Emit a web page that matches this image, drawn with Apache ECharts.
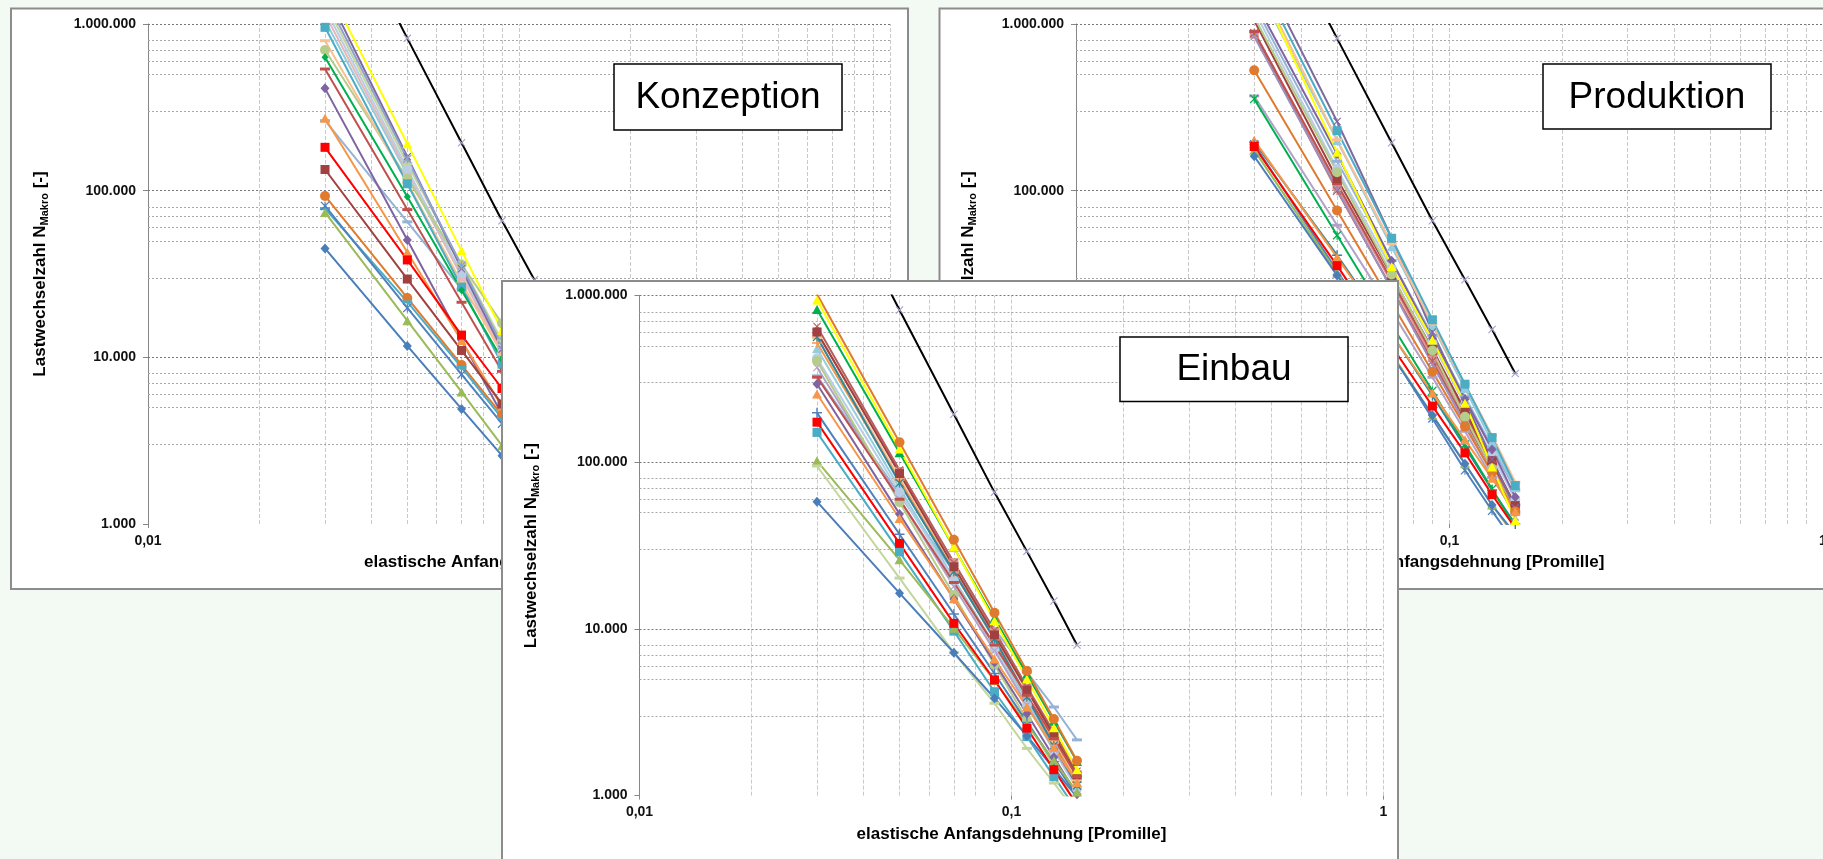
<!DOCTYPE html>
<html>
<head>
<meta charset="utf-8">
<title>Lastwechselzahl über elastische Anfangsdehnung</title>
<script src="https://cdn.jsdelivr.net/npm/echarts@6/dist/echarts.min.js"></script>
<style>
  html, body { margin: 0; padding: 0; background: #f3f9f3; }
  #chart { width: 1823px; height: 859px; }
</style>
</head>
<body>
<div id="chart"></div>
<script>
// ---- Achsen ----------------------------------------------------------
const strain = [0.03, 0.05, 0.07, 0.09, 0.11, 0.13, 0.15];          // elastische Anfangsdehnung [‰]
const xTickValues = [0.01, 0.1, 1];
const xTickLabels = ['0,01', '0,1', '1'];
const yTickValues = [1000, 10000, 100000, 1000000];
const yTickLabels = ['1.000', '10.000', '100.000', '1.000.000'];
const xGridValues = [0.02, 0.03, 0.04, 0.05, 0.06, 0.07, 0.08, 0.09, 0.1,
                     0.2, 0.3, 0.4, 0.5, 0.6, 0.7, 0.8, 0.9, 1];
const yMinorGridValues = [3000, 5000, 6000, 7000, 8000,
                          30000, 50000, 60000, 70000, 80000,
                          300000, 500000, 600000, 700000, 800000];
const yMajorGridValues = [10000, 100000, 1000000];

// ---- Referenzkurve (in allen drei Diagrammen) -------------------------
const referenzKurve = [7500000, 820000, 194000, 66000, 29200, 14700, 8000];

// ---- Konzeption ------------------------------------------------------
const konzBlauRaute        = [45000, 11700, 4900, 2570, 1520, 985, 680];
const konzGruenDreieck     = [74000, 16600, 6200, 2950, 1640, 1000, 660];
const konzBlauStern        = [81000, 19800, 7900, 4000, 2320, 1470, 1000];
const konzTuerkisStrich    = [78000, 21500, 8700, 4300, 2450, 1520, 1010];
const konzOrangeKreis      = [93000, 22700, 9000, 4500, 2600, 1640, 1110];
const konzBraunQuadrat     = [134000, 29500, 11000, 5250, 2900, 1770, 1160];
const konzRotQuadrat       = [182000, 38400, 13600, 6500, 3530, 2140, 1400];
const konzOrangeDreieck    = [272000, 42700, 12600, 5060, 2450, 1340, 800];
const konzHellblauStrich   = [263000, 65000, 25700, 12900, 7400, 4700, 3200];
const konzLilaRaute        = [411000, 50600, 12700, 4540, 1990, 1000, 560];
const konzRotStrich        = [537000, 77000, 21400, 8240, 3850, 2030, 1170];
const konzGruenRaute       = [631000, 92000, 25300, 9750, 4540, 2400, 1390];
const konzHellgruenKreis   = [698000, 118000, 36000, 16000, 8000, 4500, 2700];
const konzApricotStrich    = [794000, 112000, 28000, 10500, 4700, 2500, 1400];
const konzTuerkisQuadrat   = [955000, 110000, 26400, 9100, 3900, 1930, 1050];
const konzHelltuerkis      = [1050000, 125000, 31000, 11000, 4800, 2400, 1300];
const konzRosaQuadrat      = [1150000, 130000, 30500, 10800, 4600, 2300, 1250];
const konzHellblauKreis    = [1250000, 135000, 32000, 11500, 4700, 2300, 1200];
const konzHellgruenStrich  = [1350000, 145000, 36000, 12500, 5300, 2600, 1400];
const konzFliederStern     = [1450000, 155000, 35500, 11800, 4900, 2370, 1260];
const konzLilaKreuz        = [1600000, 160000, 34000, 11200, 4500, 2100, 1100];
const konzGelbDreieck      = [1780000, 191000, 43700, 14500, 6000, 2900, 1550];

// ---- Produktion ------------------------------------------------------
const prodBlauRaute        = [161000, 31000, 10300, 4500, 2300, 1300, 870];
const prodGruenDreieck     = [175000, 32000, 10500, 4500, 2300, 1300, 840];
const prodRotQuadrat       = [184000, 35500, 11700, 5100, 2670, 1500, 945];
const prodBlauStern        = [190000, 33000, 10500, 4300, 2100, 1200, 760];
const prodOrangeDreieck    = [201000, 39800, 13700, 6100, 3200, 1880, 1190];
const prodTuerkisPlus      = [196000, 41000, 13800, 5900, 2900, 1600, 1000];
const prodGruenStern       = [355000, 54000, 15700, 6300, 3000, 1620, 960];
const prodFliederStrich    = [370000, 62000, 19000, 7600, 3600, 1900, 1150];
const prodOrangeKreis      = [527000, 76000, 21200, 8200, 3840, 2040, 1190];
const prodFliederKreuz     = [840000, 102000, 25700, 9100, 4000, 2000, 1100];
const prodRosaQuadrat      = [870000, 106000, 28000, 10000, 4400, 2200, 1250];
const prodBraunStern       = [880000, 100000, 26000, 9500, 4200, 2150, 1200];
const prodRotStrich        = [900000, 110000, 29000, 10500, 4600, 2300, 1300];
const prodBraunQuadrat     = [1050000, 118000, 31000, 11200, 4800, 2400, 1290];
const prodHellgruenKreis   = [1100000, 129000, 31400, 11000, 4400, 2150, 1180];
const prodHellblauKreis    = [1200000, 135000, 34000, 12200, 5200, 2600, 1400];
const prodHellblauStrich   = [1300000, 150000, 38000, 13500, 5800, 2900, 1600];
const prodLilaRaute        = [1400000, 166000, 38000, 13000, 5600, 2800, 1450];
const prodHelltuerkis      = [1800000, 200000, 46000, 15500, 6500, 3100, 1650];
const prodGelbDreieck      = [2000000, 170000, 35000, 12700, 5300, 2200, 1050];
const prodApricotStrich    = [2000000, 202000, 48000, 15800, 6900, 3400, 1780];
const prodTuerkisQuadrat   = [2200000, 229000, 51800, 16800, 6900, 3300, 1700];
const prodLilaKreuz        = [2500000, 260000, 52000, 14200, 5500, 2450, 1250];

// ---- Einbau ----------------------------------------------------------
const einbBlauRaute        = [58000, 16400, 7200, 3840, 2280, 1450, 980];
const einbHellgruenStrich  = [95000, 20200, 7200, 3580, 1920, 1190, 785];
const einbGruenDreieck     = [102000, 26000, 10100, 4900, 2670, 1620, 1050];
const einbTuerkisQuadrat   = [151000, 29000, 9700, 4200, 2260, 1300, 815];
const einbRotQuadrat       = [174000, 32600, 10800, 4940, 2540, 1430, 880];
const einbBlauPlus         = [198000, 37000, 12300, 5400, 2750, 1600, 990];
const einbOrangeDreieck    = [257000, 46000, 15200, 6600, 3400, 1950, 1200];
const einbLilaRaute        = [295000, 49000, 15100, 6300, 3100, 1700, 1020];
const einbRotStrich        = [324000, 60000, 19000, 8000, 4000, 2200, 1300];
const einbHellblauStrich   = [330000, 64000, 21900, 10000, 5500, 3400, 2160];
const einbFliederKreuz     = [370000, 60000, 18000, 7400, 3500, 1900, 1150];
const einbHellgruenKreis   = [405000, 57500, 16000, 6100, 2850, 1500, 880];
const einbHellblauKreis    = [420000, 66000, 19500, 7600, 3500, 1850, 1100];
const einbHelltuerkis      = [480000, 70000, 20000, 8000, 3700, 2000, 1200];
const einbOrangePlus       = [520000, 78000, 22000, 8600, 3900, 2050, 1200];
const einbApricotStrich    = [560000, 80000, 22500, 8800, 4000, 2100, 1230];
const einbTuerkisStern     = [565000, 75000, 22000, 8700, 3900, 2000, 1150];
const einbRosaQuadrat      = [600000, 88000, 25000, 9600, 4400, 2300, 1300];
const einbBraunQuadrat     = [605000, 85500, 23600, 9200, 4300, 2290, 1330];
const einbBraunKreuz       = [653000, 90000, 25000, 9800, 4500, 2400, 1400];
const einbGruenDreieck2    = [826000, 114000, 30800, 11600, 5350, 2790, 1600];
const einbGelbDreieck      = [940000, 120000, 30900, 11200, 5000, 2550, 1430];
const einbOrangeKreis      = [1020000, 132000, 34300, 12500, 5600, 2880, 1620];

// ---- Markerformen ----------------------------------------------------
const X_PATH = 'path://M1,0L5,4L9,0L10,1L6,5L10,9L9,10L5,6L1,10L0,9L4,5L0,1Z';
const STAR_PATH = 'path://M1,0L5,4L9,0L10,1L6,5L10,9L9,10L5,6L1,10L0,9L4,5L0,1Z M4.4,0H5.6V10H4.4Z';
const PLUS_PATH = 'path://M4.3,0H5.7V4.3H10V5.7H5.7V10H4.3V5.7H0V4.3H4.3Z';
const marker = {
  raute:   ['diamond', [9, 10]],
  quadrat: ['rect', [9, 9]],
  dreieck: ['triangle', [10, 9]],
  kreis:   ['circle', [10, 10]],
  kreuz:   [X_PATH, [8, 8]],
  stern:   [STAR_PATH, [9, 9]],
  plus:    [PLUS_PATH, [10, 10]],
  strich:  ['rect', [10, 3]],
  klein:   ['diamond', [7, 8]]
};

// Reihenfolge = Zeichenreihenfolge (später gezeichnete Reihen liegen oben)
const konzeptionReihen = [
  [konzHellblauStrich, '#95B3D7', 'strich'],
  [konzHelltuerkis, '#93CDDD', 'dreieck'],
  [konzRosaQuadrat, '#E6B9B8', 'quadrat'],
  [konzHellblauKreis, '#B9CDE5', 'kreis'],
  [konzHellgruenStrich, '#C3D69B', 'strich'],
  [konzHellgruenKreis, '#B6CC8A', 'kreis'],
  [konzApricotStrich, '#FAC090', 'strich'],
  [konzLilaKreuz, '#7F6A9E', 'kreuz'],
  [konzFliederStern, '#8EA0D0', 'stern'],
  [konzTuerkisQuadrat, '#4BACC6', 'quadrat'],
  [konzGruenRaute, '#00B050', 'klein'],
  [konzRotStrich, '#C0504D', 'strich'],
  [konzLilaRaute, '#8064A2', 'raute'],
  [konzOrangeDreieck, '#F79646', 'dreieck'],
  [konzRotQuadrat, '#FF0000', 'quadrat'],
  [konzBraunQuadrat, '#A0413F', 'quadrat'],
  [konzOrangeKreis, '#E07A2E', 'kreis'],
  [konzTuerkisStrich, '#4BACC6', 'strich'],
  [konzBlauStern, '#4F81BD', 'stern'],
  [konzGruenDreieck, '#9BBB59', 'dreieck'],
  [konzBlauRaute, '#4A7EBB', 'raute'],
  [konzGelbDreieck, '#FFFF00', 'dreieck']
];

const produktionReihen = [
  [prodHellblauStrich, '#95B3D7', 'strich'],
  [prodHelltuerkis, '#93CDDD', 'dreieck'],
  [prodHellblauKreis, '#B9CDE5', 'kreis'],
  [prodRosaQuadrat, '#D99694', 'quadrat'],
  [prodBraunStern, '#B65F5C', 'stern'],
  [prodRotStrich, '#C0504D', 'strich'],
  [prodBraunQuadrat, '#A0413F', 'quadrat'],
  [prodFliederStrich, '#B3A2C7', 'strich'],
  [prodFliederKreuz, '#9E8FC0', 'kreuz'],
  [prodHellgruenKreis, '#B6CC8A', 'kreis'],
  [prodLilaRaute, '#8064A2', 'raute'],
  [prodLilaKreuz, '#7F6A9E', 'kreuz'],
  [prodApricotStrich, '#FAC090', 'strich'],
  [prodTuerkisQuadrat, '#4BACC6', 'quadrat'],
  [prodTuerkisPlus, '#31859C', 'plus'],
  [prodOrangeKreis, '#E07A2E', 'kreis'],
  [prodGruenStern, '#00B050', 'stern'],
  [prodOrangeDreieck, '#F79646', 'dreieck'],
  [prodBlauStern, '#4F81BD', 'stern'],
  [prodGruenDreieck, '#9BBB59', 'dreieck'],
  [prodBlauRaute, '#4A7EBB', 'raute'],
  [prodGelbDreieck, '#FFFF00', 'dreieck'],
  [prodRotQuadrat, '#FF0000', 'quadrat']
];

const einbauReihen = [
  [einbHellblauStrich, '#95B3D7', 'strich'],
  [einbHelltuerkis, '#93CDDD', 'dreieck'],
  [einbHellblauKreis, '#B9CDE5', 'kreis'],
  [einbFliederKreuz, '#B3A2C7', 'kreuz'],
  [einbRosaQuadrat, '#D99694', 'quadrat'],
  [einbApricotStrich, '#FAC090', 'strich'],
  [einbOrangePlus, '#F79646', 'plus'],
  [einbTuerkisStern, '#31859C', 'stern'],
  [einbBraunKreuz, '#B65F5C', 'kreuz'],
  [einbBraunQuadrat, '#A0413F', 'quadrat'],
  [einbHellgruenKreis, '#B6CC8A', 'kreis'],
  [einbRotStrich, '#C0504D', 'strich'],
  [einbLilaRaute, '#8064A2', 'raute'],
  [einbOrangeDreieck, '#F79646', 'dreieck'],
  [einbBlauPlus, '#4F81BD', 'plus'],
  [einbTuerkisQuadrat, '#4BACC6', 'quadrat'],
  [einbGruenDreieck, '#9BBB59', 'dreieck'],
  [einbHellgruenStrich, '#C3D69B', 'strich'],
  [einbBlauRaute, '#4A7EBB', 'raute'],
  [einbRotQuadrat, '#FF0000', 'quadrat'],
  [einbGruenDreieck2, '#00B050', 'dreieck'],
  [einbGelbDreieck, '#FFFF00', 'dreieck'],
  [einbOrangeKreis, '#E07A2E', 'kreis']
];

// ---- Aufbau ----------------------------------------------------------
const FONT = '"Liberation Sans", Arial, Helvetica, sans-serif';

const panels = [
  { title: 'Konzeption', grid: { left: 148, top: 24, width: 742, height: 500 }, zlevel: 0, reihen: konzeptionReihen,
    frame: { x: 11, y: 8.5, width: 897, height: 580.5 }, box: { x: 614, y: 64, width: 228, height: 66 } },
  { title: 'Produktion', grid: { left: 1076, top: 24, width: 747, height: 500 }, zlevel: 0, reihen: produktionReihen,
    frame: { x: 939.5, y: 8.5, width: 900, height: 580.5 }, box: { x: 1543, y: 64, width: 228, height: 65 } },
  { title: 'Einbau', grid: { left: 639.5, top: 295.6, width: 744, height: 500 }, zlevel: 1, reihen: einbauReihen,
    frame: { x: 502, y: 281, width: 896, height: 600 }, box: { x: 1120, y: 337, width: 228, height: 64.5 } }
];

function tickLabel(values, labels) {
  return function (v) {
    const lv = Math.log10(v);
    const i = values.findIndex(t => Math.abs(Math.log10(t) - lv) < 1e-6);
    return i >= 0 ? labels[i] : '';
  };
}

const grids = [], xAxes = [], yAxes = [], series = [], graphics = [];

panels.forEach((p, i) => {
  const zl = p.zlevel;
  grids.push(Object.assign({ zlevel: zl, outerBoundsMode: 'none', containLabel: false }, p.grid));

  xAxes.push({
    type: 'log', logBase: 10, min: 0.01, max: 1, gridIndex: i, zlevel: zl,
    axisLine: { show: false, onZero: false },
    axisTick: { show: true, length: 4, lineStyle: { color: '#8a8a8a' } },
    axisLabel: { formatter: tickLabel(xTickValues, xTickLabels), margin: 10,
                 fontSize: 14, fontWeight: 'bold', fontFamily: FONT, color: '#111' },
    splitLine: { show: false }, minorTick: { show: false }, minorSplitLine: { show: false },
    name: 'elastische Anfangsdehnung [Promille]', nameLocation: 'middle', nameGap: 30,
    nameTextStyle: { fontSize: 17, fontWeight: 'bold', fontFamily: FONT, color: '#000' }
  });

  yAxes.push({
    type: 'log', logBase: 10, min: 1000, max: 1000000, gridIndex: i, zlevel: zl,
    axisLine: { show: true, onZero: false, lineStyle: { color: '#868686', width: 1 } },
    axisTick: { show: true, length: 5, lineStyle: { color: '#868686' } },
    axisLabel: { formatter: tickLabel(yTickValues, yTickLabels), margin: 12,
                 fontSize: 14, fontWeight: 'bold', fontFamily: FONT, color: '#111' },
    splitLine: { show: false }, minorTick: { show: false }, minorSplitLine: { show: false },
    name: '{t|Lastwechselzahl N}{s|Makro}{t| [-]}', nameLocation: 'middle', nameRotate: 90, nameGap: 98,
    nameTextStyle: {
      fontSize: 17, fontWeight: 'bold', fontFamily: FONT, color: '#000',
      rich: {
        t: { fontSize: 17, fontWeight: 'bold', fontFamily: FONT, color: '#000', lineHeight: 20 },
        s: { fontSize: 11, fontWeight: 'bold', fontFamily: FONT, color: '#000', lineHeight: 8, verticalAlign: 'bottom' }
      }
    }
  });

  // Gitternetz als Markierungslinien auf den logarithmischen Achsen
  const gridLines = []
    .concat(xGridValues.map(v => ({ xAxis: v, lineStyle: { color: '#c9c9c9', width: 1, type: [4, 2] } })))
    .concat(yMinorGridValues.map(v => ({ yAxis: v, lineStyle: { color: '#a8a8a8', width: 1, type: [2, 2] } })))
    .concat(yMajorGridValues.map(v => ({ yAxis: v, lineStyle: { color: '#777777', width: 1, type: [2, 2] } })));
  series.push({
    type: 'line', xAxisIndex: i, yAxisIndex: i, zlevel: zl, z: 1, data: [], symbol: 'none', silent: true,
    markLine: { silent: true, zlevel: zl, z: 1, symbol: ['none', 'none'], label: { show: false },
                emphasis: { disabled: true }, animation: false, data: gridLines }
  });

  p.reihen.forEach(([values, color, shape]) => {
    const [sym, size] = marker[shape];
    series.push({
      type: 'line', xAxisIndex: i, yAxisIndex: i, zlevel: zl, z: 3,
      data: strain.map((x, k) => [x, values[k]]),
      symbol: sym, symbolSize: size, showSymbol: true, showAllSymbol: true, clip: true,
      lineStyle: { color: color, width: 2 }, itemStyle: { color: color, borderWidth: 0 },
      emphasis: { disabled: true }, silent: true, animation: false
    });
  });

  series.push({
    type: 'line', xAxisIndex: i, yAxisIndex: i, zlevel: zl, z: 4,
    data: strain.map((x, k) => [x, referenzKurve[k]]),
    symbol: X_PATH, symbolSize: 8, showSymbol: true, showAllSymbol: true, clip: true,
    lineStyle: { color: '#000', width: 2 }, itemStyle: { color: '#a4a4cc', borderWidth: 0 },
    emphasis: { disabled: true }, silent: true, animation: false
  });

  // Rahmen des Diagrammbereichs, Titelkasten
  graphics.push({ type: 'rect', zlevel: zl, z: -1, silent: true, shape: p.frame,
                  style: { fill: '#ffffff', stroke: '#8c8c8c', lineWidth: 2 } });
  graphics.push({ type: 'rect', zlevel: zl, z: 10, silent: true, shape: p.box,
                  style: { fill: '#ffffff', stroke: '#000000', lineWidth: 1.5 } });
  graphics.push({ type: 'text', zlevel: zl, z: 11, silent: true,
                  x: p.box.x + p.box.width / 2, y: p.box.y + p.box.height / 2 + 1,
                  style: { text: p.title, font: '37px ' + FONT, fill: '#000',
                           align: 'center', verticalAlign: 'middle',
                           textAlign: 'center', textVerticalAlign: 'middle' } });
});

const chart = echarts.init(document.getElementById('chart'), null, { renderer: 'canvas', width: 1823, height: 859 });
chart.setOption({
  backgroundColor: '#f3f9f3',
  animation: false,
  grid: grids,
  xAxis: xAxes,
  yAxis: yAxes,
  series: series,
  graphic: { elements: graphics }
});
</script>
</body>
</html>
